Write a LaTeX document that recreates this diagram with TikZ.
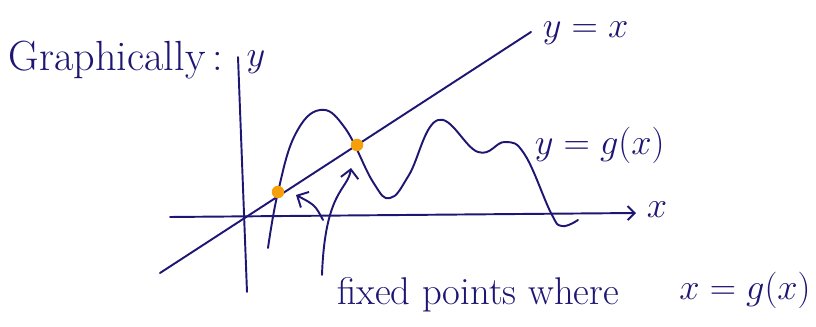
\documentclass[tikz,border=0pt]{standalone}
\usepackage{amsmath}
\usetikzlibrary{arrows.meta}
\definecolor{ink}{RGB}{30,22,115}
\definecolor{dotorange}{RGB}{245,160,10}
\tikzset{hand/.style={font=\fontsize{21}{25}\selectfont, text=ink}}

\begin{document}
\begin{tikzpicture}[x=0.02cm, y=-0.02cm, line width=1.1pt, color=ink, line cap=round, line join=round]
\useasboundingbox (0,0) rectangle (816,327);
% axes
\coordinate (xl) at (170,217);
\coordinate (xr) at (636,213);
\coordinate (yt) at (238,57);
\coordinate (yb) at (247,292);
\draw[-{Straight Barb[length=4pt]}] (xl) -- (xr);
\draw (yb) -- (yt);
\node[hand] (xlab) at (657,210) {$x$};
\node[hand] (ylab) at (256,62) {$y$};
% line y = x
\coordinate (dl) at (160,273);
\coordinate (dr) at (531,32);
\draw (dl) -- (dr);
\node[hand, anchor=west] (idlab) at (536,33) {$y = x$};
% the curve g
\draw plot[smooth, tension=0.7] coordinates {(268,248) (278,192) (295,135) (320,110) (345,128) (373,182) (390,198) (409,175) (438,120) (478,152) (505,142) (525,155) (551,213) (562,226) (578,220)};
\node[hand, anchor=west] (glab) at (528,145) {$y = g(x)$};
% fixed points
\node[circle, fill=dotorange, inner sep=0pt, minimum size=0.25cm] (fp1) at (278,192) {};
\node[circle, fill=dotorange, inner sep=0pt, minimum size=0.25cm] (fp2) at (357,145) {};
% labels and arrows
\node[hand, font=\fontsize{24}{28}\selectfont] (title) at (116,60) {Graphically\,:};
\node[hand, font=\fontsize{22}{26}\selectfont] (fixlab) at (478,295) {fixed points where};
\node[hand] (eqlab) at (745,290) {$x = g(x)$};
\coordinate (a1) at (323,220);
\coordinate (h1) at (296,195);
\coordinate (a2) at (322,275);
\coordinate (h2) at (351,168);
\draw[-{Straight Barb[length=5pt]}] (a1) .. controls (315,205) .. (h1);
\draw[-{Straight Barb[length=5pt]}] (a2) .. controls (325,190) and (348,190) .. (h2);
\end{tikzpicture}
\end{document}
